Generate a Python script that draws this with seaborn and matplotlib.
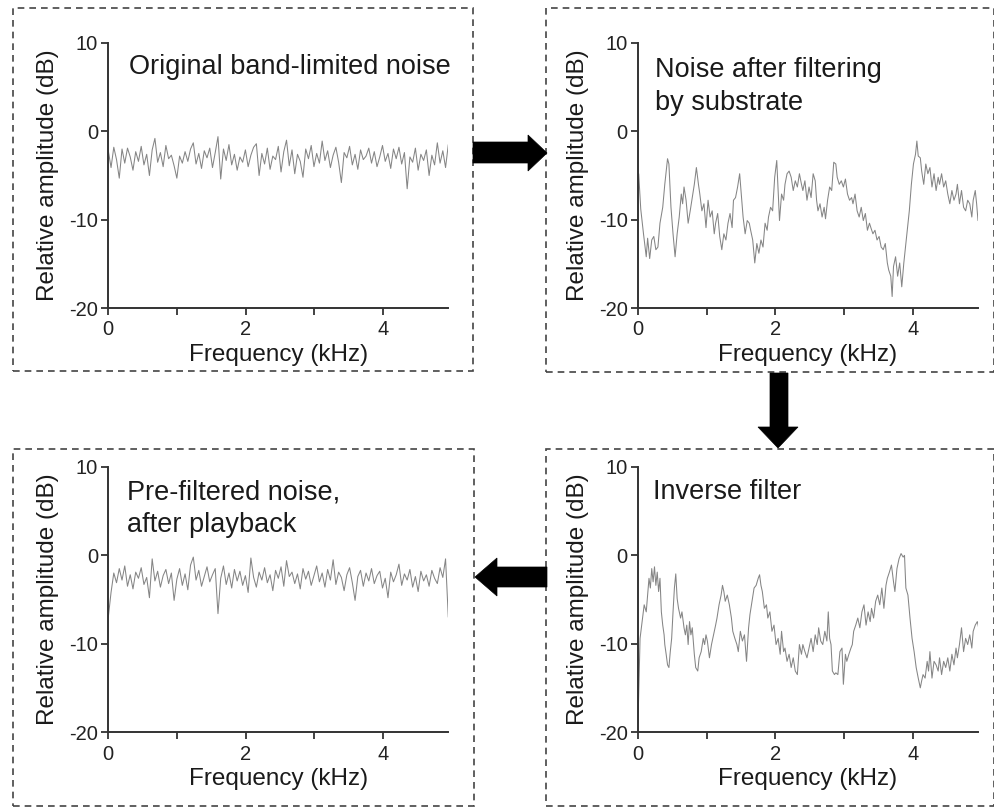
import numpy as np
import pandas as pd
import matplotlib.pyplot as plt
from matplotlib.patches import Polygon, Rectangle
import seaborn as sns

# Original band-limited noise (dB), evenly spaced over 0-4.95 kHz
orig_db = [-2.2, -4.1, -1.8, -3.2, -5.3, -2.0, -3.6, -1.9, -2.9, -4.4,
           -2.3, -3.4, -1.7, -3.8, -2.6, -5.0, -2.1, -0.8, -3.5, -2.4,
           -4.0, -1.6, -3.1, -2.7, -3.9, -5.3, -2.8, -3.6, -2.3, -3.4,
           -2.0, -1.3, -3.7, -2.5, -4.2, -2.2, -3.0, -1.9, -4.1, -2.4,
           -0.6, -5.4, -2.0, -3.3, -1.5, -3.8, -2.6, -4.4, -2.9, -3.5,
           -2.1, -4.0, -2.7, -1.8, -1.4, -5.0, -2.5, -3.7, -1.9, -4.3,
           -2.8, -3.2, -1.7, -4.6, -2.3, -1.0, -3.9, -2.1, -4.8, -2.6,
           -3.4, -5.2, -2.0, -3.1, -1.6, -4.0, -2.5, -3.6, -1.1, -3.3,
           -2.2, -4.1, -2.7, -1.8, -3.5, -5.8, -2.4, -3.0, -1.7, -3.8,
           -2.6, -4.3, -2.1, -3.2, -2.8, -1.9, -3.6, -2.3, -4.0, -2.9,
           -1.6, -3.4, -2.5, -4.2, -2.0, -3.1, -1.8, -3.7, -2.4, -6.5,
           -2.9, -3.5, -1.9, -4.4, -2.6, -3.3, -2.1, -5.0, -2.7, -3.8,
           -1.3, -3.6, -2.2, -4.1, -1.5]

# Noise after filtering by substrate
filt_freq = [0.01, 0.04, 0.08, 0.12, 0.14, 0.17, 0.20, 0.23, 0.26, 0.29,
             0.32, 0.36, 0.39, 0.43, 0.45, 0.48, 0.51, 0.54, 0.57, 0.60,
             0.63, 0.65, 0.67, 0.70, 0.73, 0.76, 0.79, 0.82, 0.85, 0.88,
             0.90, 0.93, 0.96, 0.99, 1.02, 1.05, 1.08, 1.11, 1.13, 1.16,
             1.19, 1.22, 1.25, 1.28, 1.31, 1.34, 1.37, 1.39, 1.42, 1.45,
             1.48, 1.50, 1.53, 1.56, 1.59, 1.62, 1.64, 1.67, 1.70, 1.73,
             1.76, 1.79, 1.82, 1.85, 1.88, 1.90, 1.93, 1.96, 1.99, 2.02,
             2.04, 2.06, 2.09, 2.12, 2.14, 2.17, 2.20, 2.23, 2.26, 2.29,
             2.32, 2.35, 2.38, 2.40, 2.43, 2.46, 2.49, 2.52, 2.55, 2.58,
             2.60, 2.62, 2.65, 2.68, 2.71, 2.73, 2.76, 2.79, 2.82, 2.85,
             2.88, 2.90, 2.93, 2.96, 2.99, 3.02, 3.05, 3.08, 3.11, 3.13,
             3.16, 3.19, 3.22, 3.25, 3.28, 3.31, 3.34, 3.37, 3.39, 3.42,
             3.45, 3.48, 3.51, 3.54, 3.57, 3.60, 3.63, 3.65, 3.68, 3.70,
             3.72, 3.75, 3.78, 3.81, 3.84, 3.87, 3.89, 3.92, 3.95, 3.98,
             4.01, 4.04, 4.06, 4.08, 4.11, 4.13, 4.16, 4.19, 4.22, 4.25,
             4.28, 4.31, 4.34, 4.37, 4.39, 4.42, 4.45, 4.48, 4.51, 4.54,
             4.57, 4.60, 4.63, 4.65, 4.68, 4.71, 4.74, 4.77, 4.80, 4.83,
             4.86, 4.88, 4.91, 4.93, 4.95]
filt_db = [-4.8, -8.8, -11.6, -14.2, -12.1, -14.4, -12.3, -11.9, -13.4, -13.1,
           -10.4, -8.6, -6.0, -3.1, -3.7, -8.6, -11.6, -14.2, -11.6, -9.7,
           -7.1, -8.2, -6.3, -7.8, -10.4, -9.0, -7.5, -6.0, -4.1, -6.0,
           -7.1, -9.0, -8.2, -10.9, -7.8, -9.7, -9.0, -11.6, -10.4, -9.3,
           -11.9, -13.4, -11.6, -12.3, -10.4, -9.3, -10.9, -7.8, -7.5, -6.3,
           -4.8, -6.7, -9.7, -11.6, -10.1, -10.4, -11.2, -12.3, -14.9, -12.7,
           -13.8, -12.3, -13.1, -10.4, -11.2, -9.7, -8.6, -9.0, -5.2, -3.3,
           -6.7, -10.1, -7.1, -7.8, -6.0, -4.8, -4.5, -5.2, -6.7, -5.6,
           -6.3, -4.8, -6.0, -6.7, -5.6, -7.8, -6.3, -7.5, -4.8, -5.6,
           -7.8, -9.0, -8.2, -9.7, -8.6, -9.9, -7.8, -6.3, -6.7, -3.5,
           -3.7, -5.2, -6.0, -5.6, -6.3, -5.4, -7.1, -7.8, -7.5, -8.2,
           -7.1, -9.0, -9.7, -8.6, -10.1, -9.3, -11.2, -10.4, -10.9, -11.6,
           -11.2, -12.3, -11.9, -13.1, -13.4, -12.7, -14.9, -15.7, -16.4, -18.7,
           -15.3, -14.2, -16.4, -14.9, -17.6, -14.9, -13.4, -11.2, -9.0, -6.0,
           -3.7, -2.6, -1.1, -2.8, -3.0, -4.5, -6.0, -3.7, -4.8, -4.1,
           -6.3, -4.8, -6.7, -5.2, -6.0, -4.8, -6.3, -5.6, -7.1, -8.2,
           -6.7, -7.8, -7.1, -6.0, -8.2, -6.7, -8.6, -9.0, -7.8, -8.2,
           -9.7, -7.8, -6.7, -8.2, -10.1]

# Inverse filter
inv_freq = [0.00, 0.03, 0.06, 0.09, 0.12, 0.14, 0.16, 0.18, 0.20, 0.22,
            0.24, 0.26, 0.28, 0.30, 0.32, 0.34, 0.36, 0.38, 0.39, 0.41,
            0.43, 0.45, 0.47, 0.49, 0.51, 0.53, 0.55, 0.57, 0.59, 0.62,
            0.64, 0.67, 0.69, 0.71, 0.73, 0.75, 0.77, 0.79, 0.82, 0.84,
            0.87, 0.89, 0.92, 0.95, 0.97, 0.99, 1.01, 1.04, 1.07, 1.10,
            1.13, 1.15, 1.18, 1.21, 1.23, 1.25, 1.27, 1.30, 1.33, 1.36,
            1.38, 1.41, 1.44, 1.46, 1.49, 1.52, 1.55, 1.58, 1.61, 1.63,
            1.66, 1.69, 1.72, 1.75, 1.77, 1.79, 1.81, 1.84, 1.87, 1.89,
            1.92, 1.95, 1.98, 2.01, 2.04, 2.07, 2.09, 2.12, 2.14, 2.17,
            2.20, 2.23, 2.26, 2.29, 2.32, 2.35, 2.38, 2.40, 2.43, 2.46,
            2.49, 2.52, 2.55, 2.58, 2.61, 2.63, 2.66, 2.69, 2.72, 2.75,
            2.77, 2.79, 2.81, 2.83, 2.86, 2.88, 2.91, 2.94, 2.97, 2.99,
            3.02, 3.04, 3.07, 3.10, 3.12, 3.14, 3.17, 3.20, 3.23, 3.26,
            3.29, 3.32, 3.35, 3.38, 3.40, 3.43, 3.46, 3.49, 3.52, 3.55,
            3.58, 3.61, 3.63, 3.66, 3.69, 3.72, 3.74, 3.77, 3.80, 3.83,
            3.86, 3.88, 3.90, 3.93, 3.96, 3.99, 4.02, 4.05, 4.08, 4.11,
            4.13, 4.15, 4.18, 4.21, 4.23, 4.25, 4.28, 4.31, 4.34, 4.37,
            4.39, 4.42, 4.45, 4.48, 4.51, 4.54, 4.57, 4.60, 4.63, 4.65,
            4.68, 4.71, 4.74, 4.77, 4.80, 4.83, 4.86, 4.88, 4.91, 4.94,
            4.96, 4.98]
inv_db = [-19.0, -9.4, -7.5, -5.6, -6.4, -4.5, -2.6, -3.7, -1.5, -3.0,
          -1.3, -3.4, -1.9, -4.1, -2.6, -6.4, -7.9, -9.0, -10.1, -11.2,
          -12.4, -12.7, -10.9, -9.4, -6.4, -3.7, -2.1, -4.9, -6.0, -7.1,
          -6.4, -8.2, -9.0, -7.9, -10.1, -7.5, -9.0, -8.2, -11.2, -12.7,
          -13.1, -11.6, -10.9, -9.4, -10.1, -9.0, -9.7, -11.6, -10.1, -9.0,
          -7.9, -7.1, -5.6, -4.5, -3.4, -4.1, -5.2, -4.5, -5.6, -7.1,
          -8.6, -9.4, -10.1, -10.9, -8.6, -9.7, -9.0, -12.0, -8.2, -6.7,
          -5.2, -3.7, -3.4, -2.6, -2.2, -3.4, -4.1, -6.0, -5.6, -7.1,
          -6.4, -8.6, -7.9, -10.1, -9.4, -11.2, -8.6, -10.9, -10.5, -12.0,
          -11.2, -12.7, -11.6, -13.1, -13.5, -10.1, -11.2, -10.1, -10.9, -11.6,
          -10.5, -9.4, -10.9, -9.0, -10.1, -8.2, -9.7, -10.1, -8.6, -9.7,
          -6.4, -9.4, -10.1, -13.1, -13.5, -13.3, -13.5, -10.9, -10.5, -14.6,
          -11.2, -12.0, -11.2, -10.5, -10.1, -8.6, -7.9, -7.1, -8.2, -6.4,
          -5.6, -7.9, -6.4, -7.5, -6.0, -7.1, -5.2, -4.5, -5.6, -3.7,
          -6.0, -3.4, -2.6, -1.9, -1.1, -3.0, -4.1, -1.5, -0.4, 0.2,
          -0.2, 0.0, -3.7, -4.5, -7.1, -9.4, -10.9, -12.7, -13.9, -15.0,
          -14.2, -13.5, -13.9, -12.0, -13.1, -10.9, -13.9, -12.0, -12.4, -13.1,
          -11.6, -13.5, -12.0, -12.7, -11.6, -13.1, -11.2, -12.4, -10.5, -11.6,
          -10.1, -8.2, -10.9, -9.4, -10.1, -9.0, -10.5, -8.6, -7.9, -7.5,
          -8.2, -13.9]

# Pre-filtered noise after playback, evenly spaced over 0-4.95 kHz
pre_db = [-7.0, -4.2, -2.0, -3.1, -1.5, -2.8, -1.2, -3.5, -2.2, -3.8,
          -1.9, -2.6, -1.4, -3.3, -2.5, -4.8, -0.4, -2.9, -1.8, -3.6,
          -2.3, -1.6, -3.2, -2.0, -5.1, -2.7, -1.5, -3.4, -2.1, -3.9,
          -1.1, -0.2, -2.8, -1.7, -3.5, -2.4, -1.3, -3.0, -2.2, -1.5,
          -6.6, -2.6, -1.2, -3.3, -2.0, -3.7, -1.6, -2.9, -1.8, -3.4,
          -2.3, -4.2, -0.3, -2.5, -3.6, -1.9, -2.8, -1.4, -3.1, -2.2,
          -4.0, -1.7, -2.6, -1.3, -3.5, -0.6, -2.4, -1.9, -3.2, -2.1,
          -3.8, -1.5, -2.7, -1.8, -3.4, -2.3, -1.2, -3.0, -2.0, -3.6,
          -1.6, -2.8, -0.5, -3.3, -1.9, -2.5, -4.0, -2.2, -1.4, -3.1,
          -5.1, -2.4, -1.7, -3.5, -2.0, -2.9, -1.5, -3.2, -2.3, -1.8,
          -3.7, -2.6, -4.8, -1.9, -3.0, -2.2, -1.0, -3.4, -2.1, -2.8,
          -1.6, -3.6, -2.4, -4.1, -1.8, -2.9, -2.2, -3.5, -1.7, -2.6,
          -3.2, -1.4, -2.5, -0.4, -7.0]

titles = ["Original band-limited noise",
          "Noise after filtering\nby substrate",
          "Pre-filtered noise,\nafter playback",
          "Inverse filter"]
xlabel = "Frequency (kHz)"
ylabel = "Relative amplitude (dB)"

W, H = 995, 809


def px(x, y):
    return (x / W, 1 - y / H)


sns.set_style("ticks")
plt.rcParams['font.family'] = ['Liberation Sans', 'DejaVu Sans']

fig = plt.figure(figsize=(W / 100, H / 100), dpi=100)

# axes rectangles (pixel left, top of y=10)
ax_px = [(108.3, 43), (638, 43), (108.3, 467), (638, 467)]
ax_w, ax_h = 340, 265

traces = [
    pd.DataFrame({"freq": np.linspace(0, 4.95, len(orig_db)), "db": orig_db}),
    pd.DataFrame({"freq": filt_freq, "db": filt_db}),
    pd.DataFrame({"freq": np.linspace(0, 4.95, len(pre_db)), "db": pre_db}),
    pd.DataFrame({"freq": inv_freq, "db": inv_db}),
]
title_pos = [(0.061, 0.911), (0.05, 0.835), (0.055, 0.843), (0.044, 0.907)]

axes_col = '#333333'
for (lx, ty), df, title, tp in zip(ax_px, traces, titles, title_pos):
    l, b = px(lx, ty + ax_h)
    ax = fig.add_axes([l, b, ax_w / W, ax_h / H])
    sns.lineplot(data=df, x="freq", y="db", ax=ax, color='#858585',
                 linewidth=0.75, estimator=None, sort=False)
    ax.set_xlim(0, 4.95)
    ax.set_ylim(-20, 10)
    ax.set_xticks([0, 1, 2, 3, 4])
    ax.set_xticklabels(["0", "", "2", "", "4"])
    ax.set_yticks([-20, -10, 0, 10])
    ax.set_yticklabels(["-20", "-10", "0", "10"])
    sns.despine(ax=ax)
    for s in ["left", "bottom"]:
        ax.spines[s].set_color(axes_col)
        ax.spines[s].set_linewidth(1.4)
    ax.tick_params(direction='out', length=5, width=1.3, color=axes_col,
                   labelsize=14.5, labelcolor='#222222')
    ax.tick_params(axis='y', pad=2.5)
    ax.tick_params(axis='x', pad=4)
    ax.set_xlabel(xlabel, fontsize=17.5, color='#1a1a1a', labelpad=3)
    ax.set_ylabel(ylabel, fontsize=17.5, color='#1a1a1a', labelpad=7)
    ax.set_facecolor('none')
    ax.text(tp[0], tp[1], title, transform=ax.transAxes, fontsize=19.5,
            color='#1a1a1a', ha='left', va='center', linespacing=1.35)

# dashed boxes around each panel
boxes = [(13, 8, 473, 371), (546, 8, 994, 372), (13, 449, 474, 806), (546, 449, 994, 806)]
for x0, y0, x1, y1 in boxes:
    l, b = px(x0, y1)
    fig.patches.append(Rectangle((l, b), (x1 - x0) / W, (y1 - y0) / H, fill=False,
                                 edgecolor='#444444', linewidth=1.2,
                                 linestyle=(0, (4, 3)), transform=fig.transFigure,
                                 figure=fig))

# arrows between panels
arrows = [
    [(473, 142), (528, 142), (528, 135), (547, 153), (528, 171), (528, 163), (473, 163)],
    [(770, 373), (788, 373), (788, 427), (798, 427), (778, 448), (758, 427), (770, 427)],
    [(547, 567), (497, 567), (497, 558), (475, 577), (497, 596), (497, 587), (547, 587)],
]
for pts in arrows:
    fig.patches.append(Polygon([px(x, y) for x, y in pts], closed=True,
                               facecolor='black', edgecolor='black', linewidth=0.5,
                               transform=fig.transFigure, figure=fig))

fig.savefig("out.png", dpi=100, facecolor='white')
